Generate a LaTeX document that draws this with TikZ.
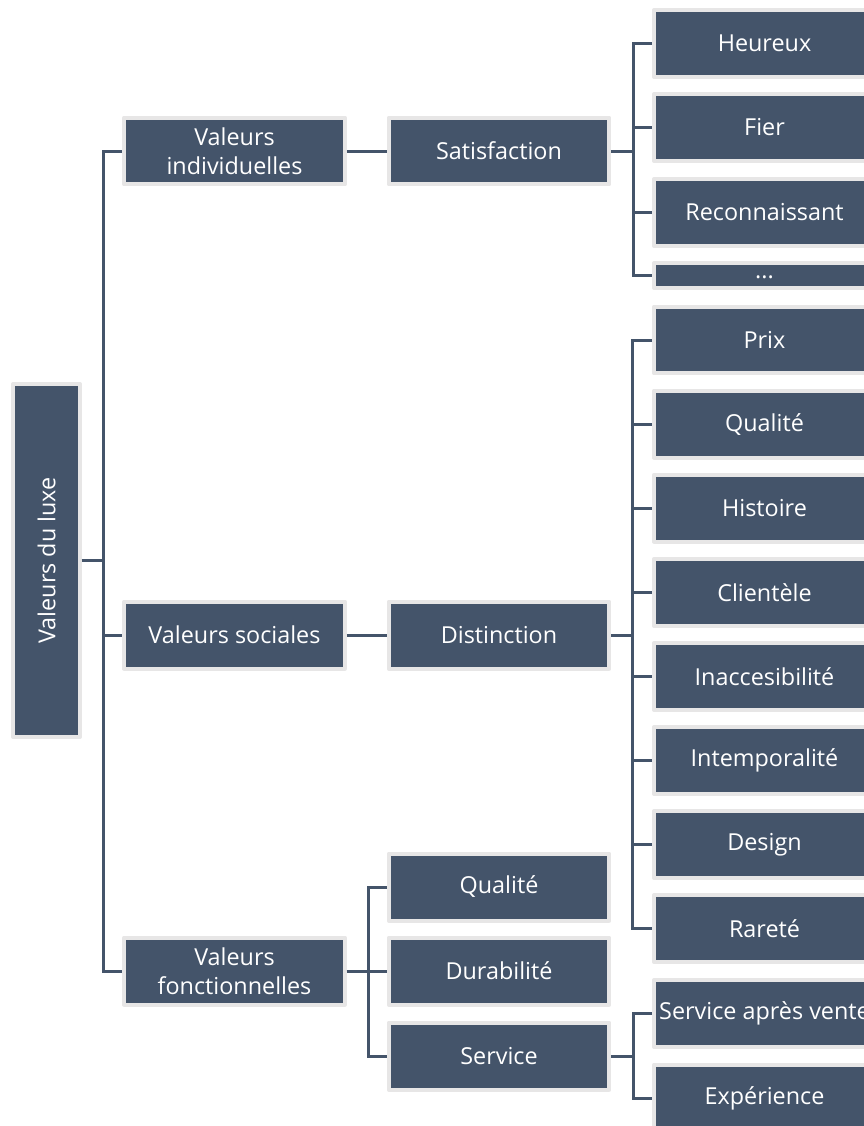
\documentclass[tikz,border=0pt]{standalone}
\usepackage{fontspec}
\setmainfont{Open Sans}
\usetikzlibrary{positioning}
\definecolor{ardoise}{HTML}{44546A}
\definecolor{bordure}{HTML}{E7E6E6}

\begin{document}
\begin{tikzpicture}[line cap=round,line join=round,x=0.02cm,y=-0.02cm,
    boite/.style={draw=bordure,line width=0.08cm,fill=ardoise,text=white,
        minimum width=4.42cm,minimum height=1.34cm,inner sep=0pt,align=center,
        font=\fontsize{13.3}{16.4}\selectfont},
    lien/.style={draw=ardoise,line width=0.06cm,line cap=butt,line join=miter}]
    \useasboundingbox (0,0) rectangle (864,1126);
    \clip (0,0) rectangle (864,1126);
    % racine
    \node[boite,minimum width=1.34cm,minimum height=7.06cm] (luxe) at (46.5,560.5) {\rotatebox{90}{Valeurs du luxe}};
    % niveau 1
    \node[boite] (vi) at (234.5,151) {Valeurs\\individuelles};
    \node[boite] (vs) at (234.5,635) {Valeurs sociales};
    \node[boite] (vf) at (234.5,971) {Valeurs\\fonctionnelles};
    % niveau 2
    \node[boite] (sat) at (499,151) {Satisfaction};
    \node[boite] (dis) at (499,635) {Distinction};
    \node[boite] (qual) at (499,887) {Qualité};
    \node[boite] (dur) at (499,971) {Durabilité};
    \node[boite] (serv) at (499,1056) {Service};
    % niveau 3
    \foreach \nom/\y [count=\i] in {Heureux/43.5,Fier/127.5,Reconnaissant/212.5}
    \node[boite] (s\i) at (764.5,\y) {\nom};
    \node[boite,minimum height=0.5cm] (s4) at (764.5,275.5) {\raisebox{-0.12cm}{...}};
    \foreach \nom [count=\i] in {Prix,Qualité,Histoire,Clientèle,Inaccesibilité,Intemporalité,Design,Rareté}
    \node[boite] (d\i) at (764.5,{340+84.1*(\i-1)}) {\nom};
    \node[boite] (sav) at (764.5,1013.5) {Service après vente};
    \node[boite] (exp) at (764.5,1098) {Expérience};
    % liens
    \foreach \n in {vi,vs,vf}
    \draw[lien] (luxe.east) -- +(22,0) |- (\n.west);
    \draw[lien] (vi.east) -- (sat.west);
    \draw[lien] (vs.east) -- (dis.west);
    \foreach \n in {qual,dur,serv}
    \draw[lien] (vf.east) -- +(22,0) |- (\n.west);
    \foreach \i in {1,...,4}
    \draw[lien] (sat.east) -- +(22,0) |- (s\i.west);
    \foreach \i in {1,...,8}
    \draw[lien] (dis.east) -- +(21,0) |- (d\i.west);
    \foreach \n in {sav,exp}
    \draw[lien] (serv.east) -- +(22,0) |- (\n.west);
\end{tikzpicture}
\end{document}
